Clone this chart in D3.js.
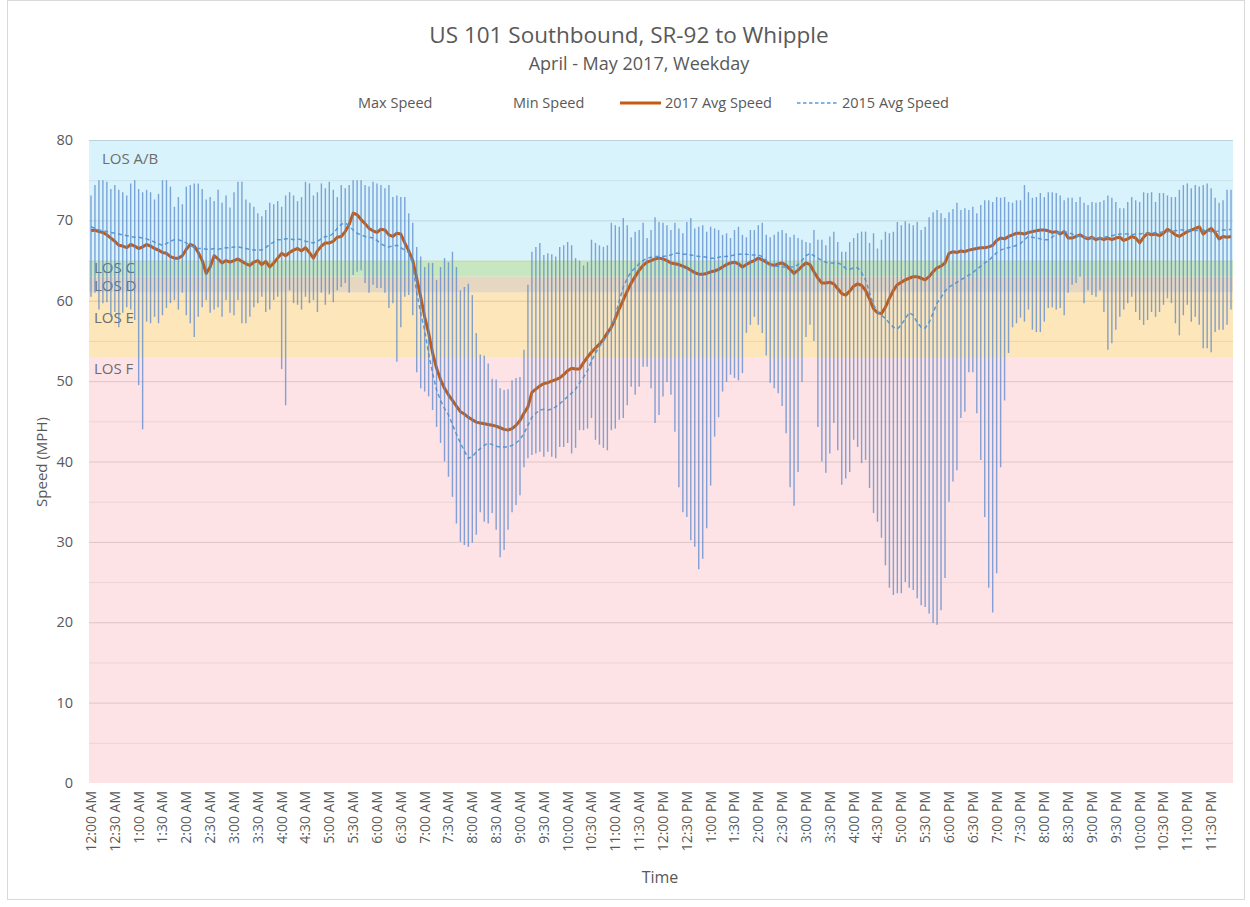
<!DOCTYPE html>
<html lang="en">
<head>
  <meta charset="UTF-8">
  <title>US 101 Southbound, SR-92 to Whipple</title>
  <script src="https://d3js.org/d3.v7.min.js"></script>
  <style>
    body { margin: 0; background: #fff; font-family: "Open Sans", sans-serif; }
    svg { display: block; }
    text { fill: #595959; }
  </style>
</head>
<body>
<svg width="1250" height="907"></svg>
<script>
// 5-minute intervals, 12:00 AM .. 11:55 PM (288 points)
const maxSpeed = [
  73.1, 74.4, 75.0, 75.0, 74.8, 73.9, 74.4, 73.8, 73.5, 73.1, 74.6, 75.0,
  73.9, 73.5, 73.8, 73.5, 72.6, 73.3, 75.0, 75.0, 74.2, 71.7, 72.9, 72.0,
  74.2, 74.4, 74.6, 74.6, 73.9, 72.6, 72.9, 72.4, 73.8, 72.2, 73.1, 71.6,
  73.5, 74.8, 74.8, 72.6, 72.2, 71.7, 70.9, 70.5, 71.3, 72.2, 72.0, 72.4,
  71.7, 73.1, 73.5, 73.1, 72.4, 72.9, 74.8, 74.6, 73.1, 73.5, 74.6, 74.0,
  74.8, 73.8, 72.9, 74.4, 74.0, 74.4, 75.0, 75.0, 75.0, 74.4, 74.2, 74.8,
  74.6, 74.4, 74.0, 74.4, 72.9, 73.1, 72.9, 72.9, 70.9, 69.7, 66.7, 65.5,
  64.2, 64.7, 64.7, 62.6, 64.2, 65.3, 64.8, 66.1, 64.2, 61.3, 61.7, 62.1,
  60.7, 56.0, 53.3, 53.2, 52.2, 50.3, 50.2, 49.1, 48.9, 49.0, 50.1, 50.4,
  50.5, 53.9, 62.0, 66.1, 66.7, 67.2, 65.7, 65.9, 65.8, 65.5, 66.7, 66.9,
  67.3, 66.9, 65.3, 65.0, 64.4, 64.8, 67.6, 67.2, 66.9, 66.7, 66.9, 69.7,
  69.4, 69.2, 70.3, 69.4, 67.9, 68.6, 68.8, 69.7, 67.8, 68.8, 70.4, 69.8,
  69.7, 69.4, 68.8, 69.7, 69.0, 68.4, 69.8, 70.3, 69.0, 69.2, 69.4, 68.6,
  69.2, 69.0, 68.8, 68.2, 68.4, 67.8, 68.8, 69.2, 68.2, 67.9, 68.8, 68.8,
  69.4, 69.7, 68.2, 67.9, 68.2, 68.6, 68.8, 68.4, 67.9, 68.2, 67.8, 67.6,
  67.3, 67.2, 68.8, 67.6, 67.6, 66.9, 68.0, 68.6, 67.3, 66.1, 66.1, 67.3,
  67.8, 68.4, 68.6, 68.6, 67.2, 68.4, 66.5, 67.6, 68.6, 68.4, 68.6, 69.8,
  69.4, 69.9, 69.6, 69.4, 69.8, 68.8, 69.2, 70.4, 71.0, 71.3, 70.9, 70.3,
  71.0, 71.4, 72.2, 71.3, 71.5, 71.3, 71.7, 70.9, 71.9, 72.5, 72.5, 72.3,
  72.9, 72.8, 72.9, 72.3, 72.2, 72.5, 72.5, 74.4, 73.5, 72.8, 72.9, 73.4,
  72.9, 73.5, 73.5, 73.4, 73.1, 72.5, 72.8, 72.8, 72.3, 72.9, 72.2, 71.9,
  72.3, 72.2, 72.3, 72.5, 73.1, 72.8, 72.3, 71.5, 71.5, 72.3, 72.9, 72.5,
  72.3, 73.5, 73.4, 73.5, 72.3, 73.4, 73.4, 73.1, 72.9, 72.9, 73.8, 74.4,
  74.6, 74.0, 74.4, 74.2, 74.4, 74.6, 74.0, 72.8, 72.2, 72.5, 73.8, 73.8
];

const minSpeed = [
  60.5, 61.0, 58.9, 59.7, 59.8, 58.0, 58.6, 56.7, 58.5, 59.2, 58.9, 57.6,
  49.5, 44.0, 57.4, 57.2, 58.0, 57.2, 58.2, 59.1, 59.7, 60.1, 58.9, 61.0,
  58.2, 57.2, 55.5, 58.0, 59.2, 60.1, 58.5, 58.9, 59.2, 58.0, 60.1, 58.5,
  58.2, 60.1, 57.2, 57.2, 58.0, 59.2, 59.7, 60.5, 58.6, 58.9, 60.1, 60.5,
  51.5, 47.0, 61.3, 59.7, 59.5, 58.9, 60.5, 59.7, 60.1, 58.6, 61.0, 59.5,
  60.8, 59.8, 61.3, 61.7, 62.2, 61.0, 63.2, 63.6, 63.8, 62.2, 61.0, 62.0,
  61.6, 61.6, 61.0, 59.1, 59.7, 52.4, 56.7, 60.5, 60.7, 58.2, 51.1, 49.1,
  48.7, 48.1, 46.4, 44.3, 42.3, 40.0, 38.1, 35.6, 32.3, 30.0, 29.6, 29.4,
  29.9, 30.9, 33.7, 32.5, 32.3, 33.6, 31.5, 28.1, 29.0, 31.5, 33.7, 34.6,
  35.8, 39.3, 40.4, 40.8, 41.0, 41.2, 40.6, 41.2, 40.6, 40.4, 41.8, 41.8,
  42.3, 41.0, 41.7, 43.9, 43.9, 44.1, 45.4, 42.7, 42.1, 41.7, 41.4, 43.9,
  44.1, 45.2, 45.4, 47.0, 49.3, 48.3, 49.3, 51.8, 51.8, 49.1, 44.8, 45.8,
  48.1, 49.9, 48.3, 43.7, 36.8, 33.7, 33.1, 30.2, 29.4, 26.6, 27.9, 31.7,
  37.0, 43.1, 45.5, 48.7, 49.9, 50.8, 50.4, 50.1, 51.0, 56.0, 57.0, 58.0,
  57.0, 56.0, 53.2, 49.8, 49.1, 48.5, 46.9, 43.5, 36.8, 34.5, 38.7, 49.9,
  55.5, 57.0, 55.0, 44.3, 40.0, 38.6, 41.0, 44.8, 41.4, 37.1, 37.9, 38.7,
  42.7, 41.8, 39.8, 40.2, 36.7, 33.6, 32.5, 30.5, 27.1, 24.3, 23.4, 23.6,
  23.6, 25.0, 24.3, 24.0, 23.0, 22.1, 21.9, 21.1, 19.9, 19.7, 21.5, 25.5,
  35.0, 37.5, 38.9, 45.4, 46.2, 51.1, 51.1, 46.0, 40.2, 33.1, 24.3, 21.2,
  26.1, 39.3, 47.6, 53.5, 56.7, 57.2, 57.9, 57.4, 58.9, 56.4, 56.1, 56.1,
  57.4, 59.1, 59.2, 58.9, 59.1, 58.2, 61.0, 62.0, 62.2, 63.0, 59.7, 61.3,
  60.7, 60.5, 61.3, 58.6, 53.9, 54.7, 56.4, 58.0, 58.9, 59.7, 60.5, 58.6,
  57.6, 57.0, 57.6, 58.6, 58.0, 58.6, 59.5, 60.3, 59.7, 57.2, 55.7, 58.2,
  59.5, 57.4, 58.0, 57.0, 54.1, 54.1, 53.6, 56.1, 56.4, 56.4, 57.0, 58.9
];

const avg2017 = [
  68.7, 68.8, 68.6, 68.5, 68.2, 67.8, 67.4, 66.9, 66.8, 66.6, 67.0, 66.8,
  66.5, 66.7, 67.0, 66.8, 66.5, 66.3, 66.0, 65.9, 65.5, 65.3, 65.3, 65.6,
  66.4, 67.0, 66.8, 66.0, 65.0, 63.4, 64.2, 65.6, 65.2, 64.7, 65.0, 64.8,
  65.0, 65.2, 64.9, 64.6, 64.4, 64.8, 65.0, 64.5, 64.9, 64.2, 64.7, 65.3,
  65.9, 65.6, 66.0, 66.3, 66.5, 66.2, 66.6, 66.0, 65.3, 66.2, 66.8, 67.2,
  67.2, 67.4, 67.9, 68.0, 68.6, 69.5, 70.9, 70.7, 70.1, 69.6, 69.0, 68.7,
  68.5, 68.9, 68.8, 68.2, 68.0, 68.4, 68.3, 67.2, 66.2, 65.0, 62.8, 60.5,
  58.0, 56.0, 53.5, 51.6, 50.2, 49.1, 48.3, 47.6, 46.9, 46.2, 45.9, 45.5,
  45.2, 44.9, 44.8, 44.7, 44.6, 44.5, 44.4, 44.2, 44.0, 43.9, 44.1, 44.5,
  45.1, 46.0, 46.8, 48.6, 49.0, 49.4, 49.7, 49.8, 50.0, 50.2, 50.4, 50.8,
  51.3, 51.6, 51.5, 51.5, 52.3, 53.0, 53.6, 54.1, 54.6, 55.2, 56.0, 56.7,
  57.8, 59.0, 60.1, 61.2, 62.2, 63.0, 63.8, 64.4, 64.8, 65.0, 65.2, 65.3,
  65.2, 65.0, 64.7, 64.6, 64.5, 64.3, 64.1, 63.8, 63.5, 63.3, 63.3, 63.4,
  63.6, 63.7, 63.9, 64.2, 64.5, 64.7, 64.8, 64.6, 64.2, 64.5, 64.8, 65.0,
  65.3, 65.1, 64.8, 64.5, 64.4, 64.6, 64.7, 64.4, 63.9, 63.4, 63.8, 64.3,
  64.7, 64.5, 63.6, 62.8, 62.2, 62.2, 62.3, 62.1, 61.5, 60.9, 60.7, 61.2,
  61.8, 62.1, 61.9, 61.3, 60.2, 59.0, 58.5, 58.4, 59.2, 60.3, 61.3, 62.0,
  62.3, 62.6, 62.8, 63.0, 63.0, 62.8, 62.6, 63.0, 63.6, 64.1, 64.3, 64.7,
  65.9, 66.1, 66.0, 66.2, 66.1, 66.3, 66.4, 66.5, 66.6, 66.6, 66.7, 66.9,
  67.5, 67.8, 67.7, 68.0, 68.2, 68.4, 68.4, 68.3, 68.5, 68.6, 68.7, 68.8,
  68.8, 68.7, 68.5, 68.6, 68.3, 68.6, 67.8, 67.8, 68.0, 68.2, 67.9, 67.7,
  67.9, 67.6, 67.8, 67.6, 67.8, 67.6, 67.8, 67.9, 67.5, 67.7, 68.0, 67.8,
  67.2, 67.9, 68.4, 68.2, 68.3, 68.1, 68.4, 68.9, 68.6, 68.2, 68.0, 68.3,
  68.6, 68.8, 69.0, 69.2, 68.3, 68.7, 69.0, 68.5, 67.7, 68.0, 67.9, 68.0
];

const avg2015 = [
  69.2, 69.0, 68.8, 68.7, 68.6, 68.5, 68.4, 68.3, 68.2, 68.1, 68.0, 67.9,
  67.9, 67.8, 67.7, 67.5, 67.3, 67.1, 66.9, 67.1, 67.4, 67.6, 67.6, 67.4,
  67.2, 66.9, 66.6, 66.5, 66.5, 66.4, 66.4, 66.5, 66.4, 66.5, 66.6, 66.6,
  66.7, 66.7, 66.6, 66.5, 66.4, 66.3, 66.3, 66.3, 66.6, 67.0, 67.3, 67.6,
  67.6, 67.7, 67.7, 67.6, 67.7, 67.6, 67.4, 67.3, 67.2, 67.4, 67.7, 68.0,
  68.0, 68.4, 69.0, 69.5, 69.7, 69.3, 68.8, 68.4, 68.2, 68.0, 67.9, 67.8,
  67.5, 67.1, 66.8, 66.7, 66.8, 66.9, 66.6, 66.3, 66.0, 64.5, 61.0, 58.5,
  56.3, 53.4, 51.0, 48.9, 47.6, 46.6, 45.8, 44.6, 43.4, 42.3, 41.3, 40.4,
  40.6, 41.2, 41.6, 42.0, 42.3, 42.1, 41.9, 41.8, 41.8, 41.8, 42.0, 42.3,
  42.7, 43.5, 44.5, 45.5, 46.0, 46.4, 46.5, 46.4, 46.5, 46.8, 47.2, 47.6,
  48.1, 48.5, 49.0, 49.8, 50.5, 51.3, 52.5, 53.5, 54.3, 55.0, 55.7, 56.6,
  58.2, 60.0, 61.7, 62.8, 63.6, 64.1, 64.6, 65.0, 65.3, 65.4, 65.5, 65.5,
  65.5, 65.6, 65.7, 65.9, 65.9, 65.8, 65.8, 65.7, 65.6, 65.5, 65.5, 65.4,
  65.3, 65.3, 65.4, 65.5, 65.5, 65.6, 65.7, 65.8, 65.8, 65.8, 65.7, 65.7,
  65.7, 65.5, 65.0, 64.4, 64.3, 64.3, 64.2, 64.2, 64.2, 64.2, 64.5, 65.0,
  65.6, 65.9, 65.6, 65.3, 65.0, 64.8, 64.7, 64.7, 64.7, 64.5, 64.0, 63.9,
  64.1, 64.1, 63.5, 62.6, 61.0, 59.5, 58.6, 58.2, 57.8, 57.2, 56.7, 56.5,
  57.0, 57.8, 58.5, 58.2, 57.3, 56.7, 56.6, 57.3, 58.5, 59.7, 60.4, 61.2,
  61.7, 62.0, 62.3, 62.6, 62.9, 63.2, 63.5, 63.9, 64.3, 64.7, 65.0, 65.5,
  66.0, 66.3, 66.5, 66.6, 66.7, 66.9, 67.1, 67.6, 68.0, 67.9, 67.8, 67.7,
  67.6, 67.6, 67.9, 68.3, 68.6, 68.6, 68.5, 68.3, 68.1, 68.0, 67.9, 67.9,
  67.8, 67.8, 67.8, 67.9, 68.0, 68.1, 68.2, 68.3, 68.3, 68.3, 68.2, 68.3,
  68.3, 68.4, 68.4, 68.4, 68.5, 68.5, 68.6, 68.6, 68.7, 68.7, 68.8, 68.8,
  68.8, 68.7, 68.7, 68.8, 68.8, 68.7, 68.6, 68.6, 68.7, 68.8, 68.8, 68.9
];

// one label every 30 minutes
const timeLabels = [
  "12:00 AM", "12:30 AM", "1:00 AM", "1:30 AM", "2:00 AM", "2:30 AM",
  "3:00 AM", "3:30 AM", "4:00 AM", "4:30 AM", "5:00 AM", "5:30 AM",
  "6:00 AM", "6:30 AM", "7:00 AM", "7:30 AM", "8:00 AM", "8:30 AM",
  "9:00 AM", "9:30 AM", "10:00 AM", "10:30 AM", "11:00 AM", "11:30 AM",
  "12:00 PM", "12:30 PM", "1:00 PM", "1:30 PM", "2:00 PM", "2:30 PM",
  "3:00 PM", "3:30 PM", "4:00 PM", "4:30 PM", "5:00 PM", "5:30 PM",
  "6:00 PM", "6:30 PM", "7:00 PM", "7:30 PM", "8:00 PM", "8:30 PM",
  "9:00 PM", "9:30 PM", "10:00 PM", "10:30 PM", "11:00 PM", "11:30 PM"
];
const yTicks = [0, 10, 20, 30, 40, 50, 60, 70, 80];

// level of service bands (mph)
const losNames = ["LOS A/B", "LOS C", "LOS D", "LOS E", "LOS F"];
const losLow   = [65, 63, 61, 53, 0];
const losHigh  = [80, 65, 63, 61, 53];
const losColors = ["#d9f3fc", "#c7e7c1", "#e6d7c0", "#fde6ba", "#fde3e5"];

const svg = d3.select("svg");
const plotLeft = 89, plotRight = 1233, plotTop = 140, plotBottom = 783;

const x = d3.scaleBand().domain(d3.range(maxSpeed.length)).range([plotLeft, plotRight]);
const cx = i => x(i) + x.bandwidth() / 2;
const y = d3.scaleLinear().domain([0, 80]).range([plotBottom, plotTop]);

// outer frame
svg.append("rect")
  .attr("x", 7.5).attr("y", 0.5).attr("width", 1237).attr("height", 899)
  .attr("fill", "none").attr("stroke", "#d9d9d9");

// bands
svg.append("g").selectAll("rect")
  .data(losNames)
  .join("rect")
  .attr("x", plotLeft)
  .attr("width", plotRight - plotLeft)
  .attr("y", (d, i) => y(losHigh[i]))
  .attr("height", (d, i) => y(losLow[i]) - y(losHigh[i]))
  .attr("fill", (d, i) => losColors[i]);

// gridlines every 5 mph, stronger at tens
svg.append("g").selectAll("line")
  .data(d3.range(5, 81, 5))
  .join("line")
  .attr("x1", plotLeft).attr("x2", plotRight)
  .attr("y1", d => y(d) + 0.5).attr("y2", d => y(d) + 0.5)
  .attr("stroke", "#000")
  .attr("stroke-opacity", d => d % 10 === 0 ? 0.13 : 0.07);

// band labels
const losLabelX = [102, 94, 94, 94, 94];
const losLabelY = [159, 268, 286, 318, 369];
svg.append("g").selectAll("text")
  .data(losNames)
  .join("text")
  .attr("x", (d, i) => losLabelX[i])
  .attr("y", (d, i) => losLabelY[i])
  .attr("dy", "0.35em")
  .style("font-size", "15px")
  .style("fill", "#6d6d6d")
  .text(d => d);

// average lines
const line = d3.line().x((d, i) => cx(i)).y(d => y(d));

svg.append("path")
  .datum(avg2017)
  .attr("fill", "none")
  .attr("stroke", "#c55a11")
  .attr("stroke-width", 3)
  .attr("stroke-linejoin", "round")
  .attr("d", line);

svg.append("path")
  .datum(avg2015)
  .attr("fill", "none")
  .attr("stroke", "#5b9bd5")
  .attr("stroke-width", 1.5)
  .attr("stroke-dasharray", "4,3")
  .attr("d", line);

// max-min lines
svg.append("g").selectAll("line")
  .data(maxSpeed)
  .join("line")
  .attr("x1", (d, i) => cx(i)).attr("x2", (d, i) => cx(i))
  .attr("y1", d => y(d))
  .attr("y2", (d, i) => y(minSpeed[i]))
  .attr("stroke", "#5a88cc")
  .attr("stroke-opacity", 0.75)
  .attr("stroke-width", 1.4);

// y axis labels
svg.append("g").selectAll("text")
  .data(yTicks)
  .join("text")
  .attr("x", 73)
  .attr("y", d => y(d))
  .attr("dy", "0.35em")
  .attr("text-anchor", "end")
  .style("font-size", "14.5px")
  .text(d => d);

// x axis labels
svg.append("g").selectAll("text")
  .data(timeLabels)
  .join("text")
  .attr("transform", (d, i) => `translate(${cx(i * 6)},791) rotate(-90)`)
  .attr("dy", "0.35em")
  .attr("text-anchor", "end")
  .style("font-size", "14px")
  .text(d => d);

// titles
svg.append("text")
  .attr("x", 629).attr("y", 43)
  .attr("text-anchor", "middle")
  .style("font-size", "22.5px")
  .text("US 101 Southbound, SR-92 to Whipple");

svg.append("text")
  .attr("x", 639).attr("y", 70)
  .attr("text-anchor", "middle")
  .style("font-size", "18px")
  .text("April - May 2017, Weekday");

svg.append("text")
  .attr("transform", "translate(42,462) rotate(-90)")
  .attr("dy", "0.35em")
  .attr("text-anchor", "middle")
  .style("font-size", "15px")
  .text("Speed (MPH)");

svg.append("text")
  .attr("x", 660).attr("y", 883)
  .attr("text-anchor", "middle")
  .style("font-size", "16px")
  .text("Time");

// legend
const legend = svg.append("g").style("font-size", "14.5px");
legend.append("text").attr("x", 358).attr("y", 108).text("Max Speed");
legend.append("text").attr("x", 513).attr("y", 108).text("Min Speed");
legend.append("line")
  .attr("x1", 620).attr("x2", 661).attr("y1", 103).attr("y2", 103)
  .attr("stroke", "#c55a11").attr("stroke-width", 3);
legend.append("text").attr("x", 665).attr("y", 108).text("2017 Avg Speed");
legend.append("line")
  .attr("x1", 797).attr("x2", 838).attr("y1", 103).attr("y2", 103)
  .attr("stroke", "#5b9bd5").attr("stroke-width", 1.5)
  .attr("stroke-dasharray", "3.5,2.5");
legend.append("text").attr("x", 842).attr("y", 108).text("2015 Avg Speed");
</script>
</body>
</html>
